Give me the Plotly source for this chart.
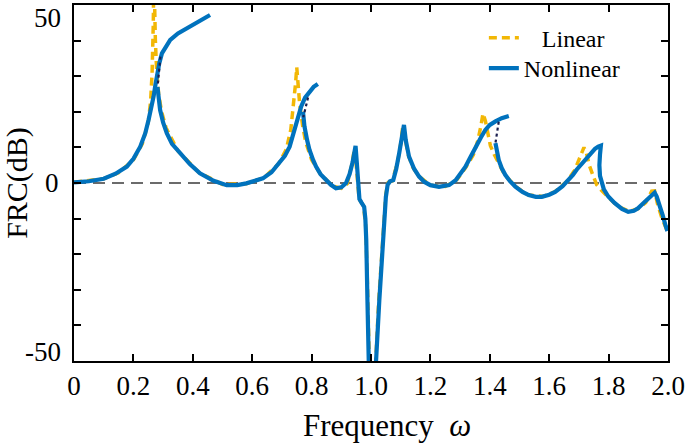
import plotly.graph_objects as go

# ---------------- data ----------------
# Linear FRC (dB) vs frequency
lin_x = [0, 0.1, 0.15, 0.2, 0.23, 0.25, 0.258, 0.263, 0.267, 0.269, 0.271, 0.274, 0.278, 0.285, 0.295,
         0.31, 0.35, 0.42, 0.5, 0.58, 0.64, 0.69, 0.715, 0.73, 0.74, 0.746, 0.75, 0.754, 0.76, 0.77,
         0.78, 0.8, 0.83, 0.87, 0.9, 0.92, 0.935, 0.945, 0.952, 0.96, 0.975, 0.982, 0.988, 0.993,
         0.997, 1.012, 1.016, 1.026, 1.04, 1.05, 1.058, 1.072, 1.09, 1.1, 1.107, 1.115, 1.125, 1.14,
         1.16, 1.2, 1.25, 1.29, 1.32, 1.345, 1.36, 1.37, 1.377, 1.385, 1.393, 1.402, 1.415, 1.43,
         1.45, 1.49, 1.53, 1.58, 1.62, 1.66, 1.685, 1.7, 1.71, 1.717, 1.725, 1.735, 1.748, 1.76,
         1.775, 1.8, 1.83, 1.87, 1.9, 1.925, 1.945, 1.955, 1.965, 1.98, 1.995]
lin_y = [0.2, 1.2, 2.9, 6.5, 11, 17, 23, 31, 45, 60, 52, 40, 32, 25, 20,
         15.5, 9, 3, -0.4, -0.2, 1.5, 5.5, 9.5, 15, 22, 28, 32.5, 28, 22, 16,
         11.5, 6.5, 2.5, -0.8, -1.5, -0.2, 5, 10, 4, -4.5, -6.5, -12, -28, -50,
         -60, -60, -50, -33, -15, -3, 0.2, 0.6, 6, 11, 16, 12, 8, 4.5,
         2, -0.6, -1, 1, 4.5, 8, 12, 16, 19.5, 17.5, 14, 10.5, 8, 5.5,
         2.3, -1.2, -3.4, -3.8, -2.4, 0.5, 3.5, 6.5, 8.8, 10, 8.5, 5, 2, -0.5,
         -2, -4, -6.5, -8, -7.2, -5.5, -2.3, -2.2, -6, -10, -13]

# Nonlinear FRC, stable branches
nl1_x = [0, 0.05, 0.1, 0.14, 0.178, 0.2, 0.223, 0.24, 0.251, 0.26, 0.268, 0.274, 0.28, 0.287,
         0.296, 0.31, 0.324, 0.35, 0.38, 0.42, 0.458]
nl1_y = [0.2, 0.5, 1.2, 2.6, 4.6, 6.8, 10.2, 14, 17.7, 21, 24.3, 27.5, 30.5, 33.6,
         36.4, 38.6, 40.2, 42, 43.5, 45.5, 47.2]

nl2_x = [0.281, 0.285, 0.29, 0.3, 0.3125, 0.33, 0.357, 0.39, 0.424, 0.47, 0.514, 0.55, 0.58, 0.61,
         0.636, 0.665, 0.692, 0.71, 0.726, 0.738, 0.748, 0.757, 0.765, 0.778, 0.793, 0.807, 0.821]
nl2_y = [27, 24, 20.5, 17, 14, 11, 8.3, 5.3, 2.7, 0.6, -0.6, -0.6, -0.1, 0.5,
         1.3, 3, 5.5, 7.6, 10.2, 13.5, 16.8, 19.5, 21.5, 24, 25.7, 27, 27.8]

nl3_x = [0.771, 0.776, 0.785, 0.793, 0.805, 0.815, 0.83, 0.849, 0.865, 0.882, 0.9, 0.916, 0.928,
         0.938, 0.944, 0.948, 0.952, 0.956, 0.961, 0.968, 0.977, 0.981, 0.984, 0.988, 0.992, 0.995,
         1.013, 1.017, 1.028, 1.042, 1.05, 1.056, 1.064, 1.075, 1.085, 1.095, 1.104, 1.111, 1.117,
         1.128, 1.145, 1.162, 1.18, 1.2, 1.229, 1.263, 1.285, 1.3, 1.318, 1.335, 1.352, 1.37, 1.385,
         1.4, 1.419, 1.44, 1.464]
nl3_y = [20, 15.9, 12, 9.3, 6.5, 4.6, 2.5, 0.8, -0.5, -1.5, -1.2, 0, 2.5,
         5.8, 8.5, 10.4, 6, 1.5, -4.5, -5.5, -6.7, -10, -16, -33, -50, -60,
         -60, -50, -33, -14, -4, -0.5, 0.5, 0.8, 4, 8.4, 13, 16.3, 12,
         7.4, 4, 1.8, 0.3, -0.6, -1.1, -0.6, 0.8, 2.5, 4.6, 7.3, 10.2, 12.8, 14.9,
         16.3, 17.3, 18.2, 18.8]

nl4_x = [1.419, 1.425, 1.43, 1.44, 1.452, 1.468, 1.486, 1.51, 1.531, 1.555, 1.575, 1.6, 1.62,
         1.645, 1.665, 1.68, 1.693, 1.707, 1.721, 1.738, 1.754, 1.765, 1.774,
         1.771, 1.769, 1.771, 1.776, 1.784, 1.799, 1.82, 1.845, 1.866, 1.885, 1.899, 1.915, 1.933,
         1.945, 1.955, 1.962, 1.972, 1.982, 1.992, 1.998]
nl4_y = [11.2, 8.5, 6.5, 4.2, 2.3, 0.5, -1, -2.5, -3.4, -3.9, -3.9, -3.3, -2.5,
         -0.9, 0.8, 2.3, 3.8, 5.2, 6.5, 8.2, 9.6, 10.2, 10.5,
         8, 5, 2, 0, -1.8, -3.8, -5.6, -7.3, -8.1, -7.8, -7.1, -5.8, -4.3,
         -3.2, -2.7, -3.8, -6, -9, -12, -13.5]

# Nonlinear FRC, unstable branches (dotted)
un1_x = [0.291, 0.286, 0.282]
un1_y = [35.5, 31, 27.5]
un2_x = [0.788, 0.78, 0.772]
un2_y = [24, 21, 18.5]
un3_x = [1.43, 1.424, 1.419]
un3_y = [17.2, 14, 11.2]

x_ticks = [0, 0.2, 0.4, 0.6, 0.8, 1.0, 1.2, 1.4, 1.6, 1.8, 2.0]
x_tick_text = ["0", "0.2", "0.4", "0.6", "0.8", "1.0", "1.2", "1.4", "1.6", "1.8", "2.0"]
y_ticks = [-50, 0, 50]
y_tick_text = ["-50", "0", "50"]


def join(*segs):
    out = []
    for i, s in enumerate(segs):
        if i:
            out.append(None)
        out.extend(s)
    return out


nl_x = join(nl1_x, nl2_x, nl3_x, nl4_x)
nl_y = join(nl1_y, nl2_y, nl3_y, nl4_y)
un_x = join(un1_x, un2_x, un3_x)
un_y = join(un1_y, un2_y, un3_y)

FONT = "Liberation Serif, Times New Roman, serif"
BLUE = "#0072BD"
ORANGE = "#F2B705"

fig = go.Figure()
fig.add_trace(go.Scatter(x=lin_x, y=lin_y, mode="lines",
                         name="\u00a0\u00a0\u00a0Linear", legend="legend",
                         line=dict(color=ORANGE, width=3.5, dash="8px,5px")))
fig.add_trace(go.Scatter(x=nl_x, y=nl_y, mode="lines", name="Nonlinear", legend="legend2",
                         connectgaps=False,
                         line=dict(color=BLUE, width=4.2)))
fig.add_trace(go.Scatter(x=un_x, y=un_y, mode="lines", showlegend=False,
                         connectgaps=False,
                         line=dict(color="#1b1f4f", width=2.2, dash="dot")))

# dashed zero reference line
fig.add_shape(type="line", xref="paper", x0=0, x1=1, yref="y", y0=0, y1=0,
              line=dict(color="#6b6b6b", width=2, dash="12px,7px"), layer="below")

axis_common = dict(showline=True, linewidth=2, linecolor="black", mirror="ticks",
                   ticks="inside", ticklen=7, tickwidth=2, tickcolor="black",
                   showgrid=False, zeroline=False, automargin=False,
                   ticklabeloverflow="allow",
                   tickfont=dict(family=FONT, size=27, color="black"))

legend_common = dict(xanchor="left", yanchor="top", bgcolor="rgba(0,0,0,0)", borderwidth=0,
                     font=dict(family=FONT, size=24, color="black"), itemwidth=30)

fig.update_layout(
    width=685, height=445,
    margin=dict(l=74, r=17, t=5, b=84),
    paper_bgcolor="white", plot_bgcolor="white",
    font=dict(family=FONT, color="black"),
    showlegend=True,
    legend=dict(x=0.69, y=0.97, **legend_common),
    legend2=dict(x=0.69, y=0.885, **legend_common),
    xaxis=dict(range=[0, 2.0], tickvals=x_ticks, ticktext=x_tick_text, **axis_common),
    yaxis=dict(range=[-50, 50], tickvals=y_ticks, ticktext=["", "0", ""],
               ticklabelstandoff=8,
               minor=dict(dtick=10, tick0=0, ticks="inside", ticklen=7, tickwidth=2,
                          tickcolor="black", showgrid=False),
               title=dict(text="FRC(dB)", font=dict(family=FONT, size=30, color="black"),
                          standoff=12),
               **axis_common),
)

# x-axis title (slightly right of centre, as in the reference)
fig.add_annotation(x=0.5265, xref="paper", y=0, yref="paper", yshift=-64,
                   text="Frequency\u00a0\u00a0<i>ω</i>", showarrow=False,
                   xanchor="center", yanchor="middle",
                   font=dict(family=FONT, size=31, color="black"))

# end labels of the y axis, nudged inward so they are not cut off by the page edge
for val, txt, shift in [(50, y_tick_text[2], -13), (-50, y_tick_text[0], 9)]:
    fig.add_annotation(x=0, xref="paper", y=val, yref="y", text=txt, showarrow=False,
                       xanchor="right", yanchor="middle", xshift=-11, yshift=shift,
                       font=dict(family=FONT, size=27, color="black"))

fig.write_html(
    "out.html",
    config={"displayModeBar": False},
    post_script=("document.documentElement.style.overflow='hidden';"
                 "document.body.style.overflow='hidden';"
                 "document.body.style.margin='0';"),
)
